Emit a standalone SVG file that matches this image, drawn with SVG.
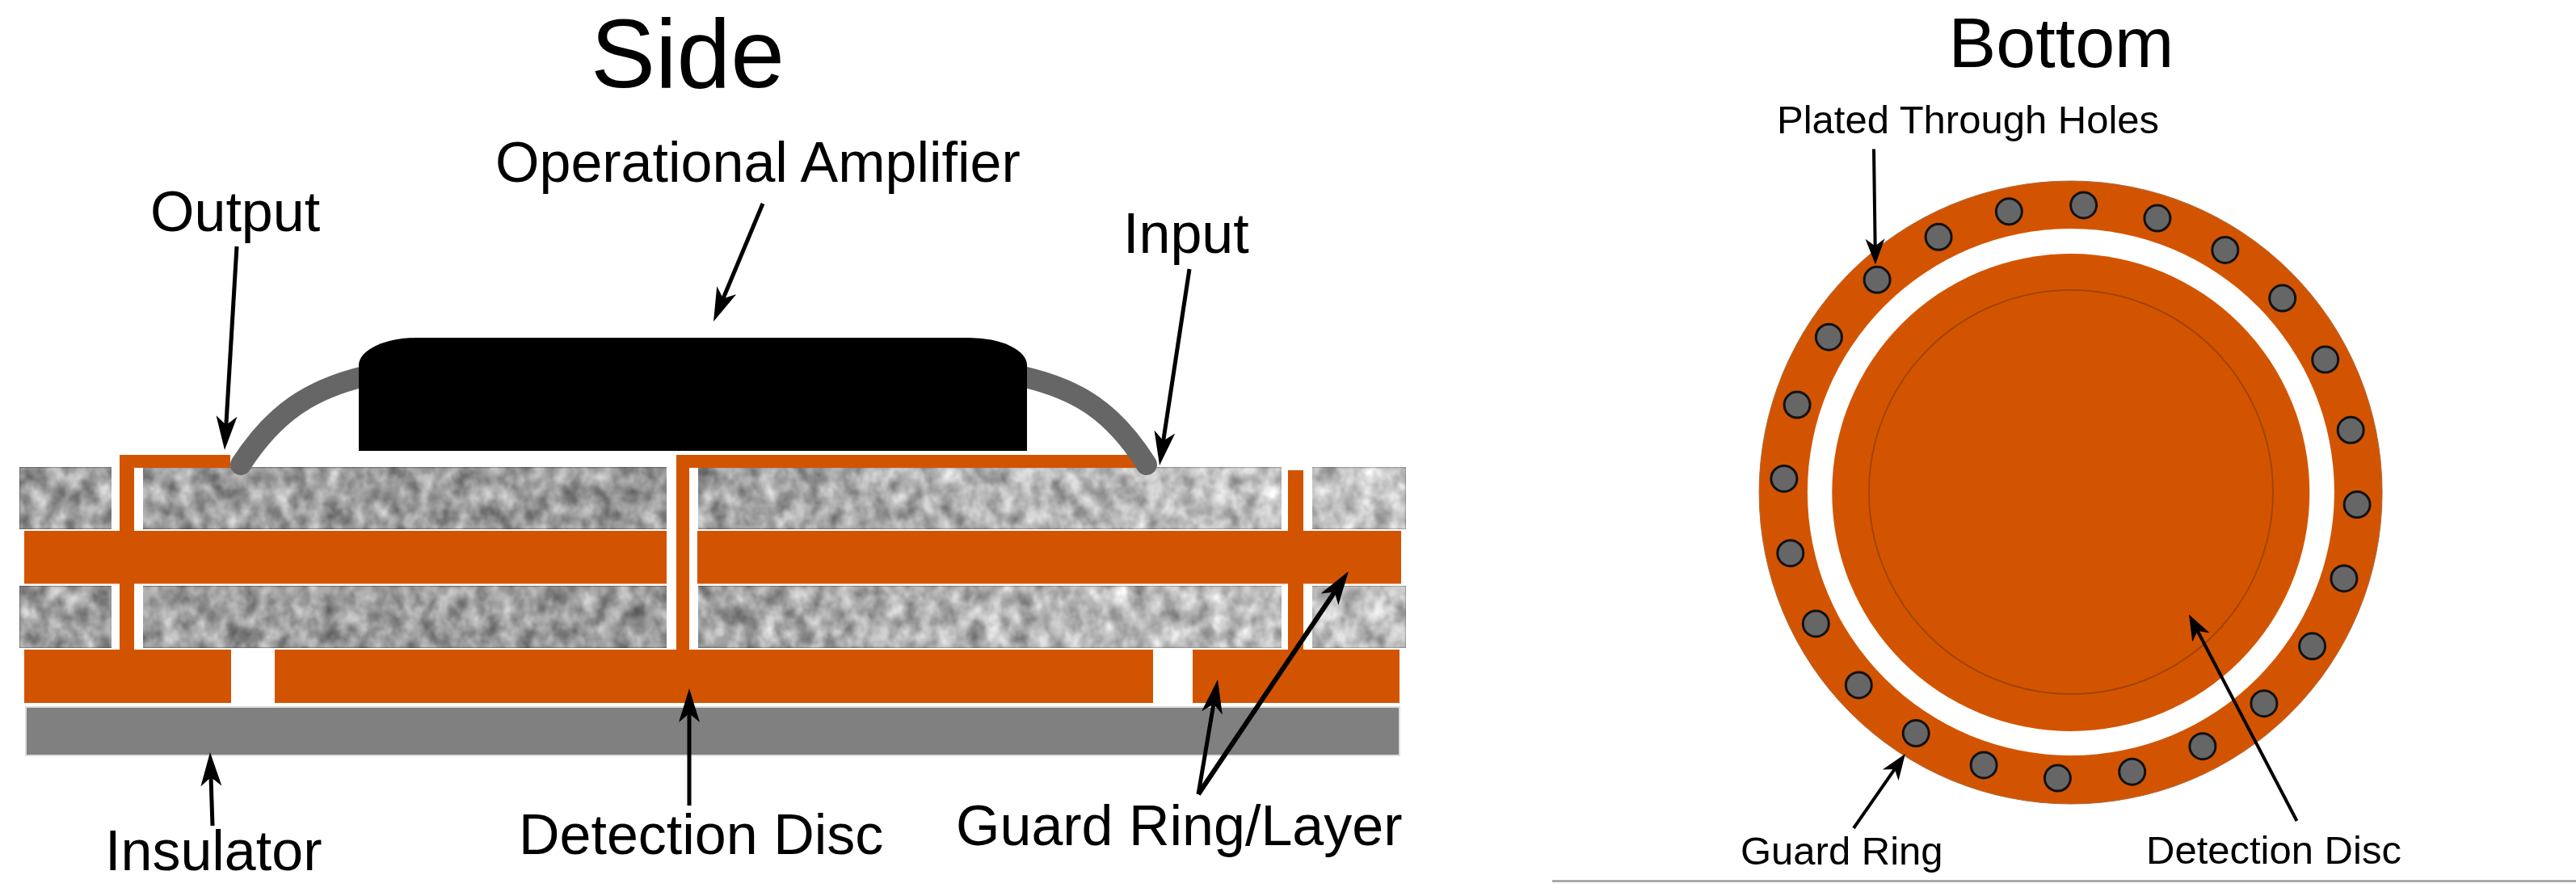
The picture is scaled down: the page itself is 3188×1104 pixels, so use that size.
<svg xmlns="http://www.w3.org/2000/svg" width="3188" height="1104" viewBox="0 0 3188 1104">
<style>
text{font-family:"Liberation Sans",Arial,sans-serif;fill:#000}
.big{font-size:70px}.small{font-size:49px}
.cu{fill:#d35400}
.arrow{stroke:#000;stroke-width:5;fill:none;marker-end:url(#head)}
.arrows{stroke:#000;stroke-width:4;fill:none;marker-end:url(#heads)}
.wire{stroke:#666;stroke-width:26;fill:none;stroke-linecap:round}
.hole{fill:#666;stroke:#111;stroke-width:3}
</style>
<defs>
<marker id="head" markerUnits="userSpaceOnUse" markerWidth="46" markerHeight="30" viewBox="0 -15 46 30" refX="27" refY="0" orient="auto"><path d="M0,-13 L42,0 L0,13 L11,0 Z" fill="#000"/></marker>
<marker id="heads" markerUnits="userSpaceOnUse" markerWidth="36" markerHeight="28" viewBox="0 -14 36 28" refX="20" refY="0" orient="auto"><path d="M0,-12 L32,0 L0,12 L9,0 Z" fill="#000"/></marker>
<linearGradient id="tone" gradientUnits="userSpaceOnUse" x1="24" y1="0" x2="1740" y2="0"><stop offset="0" stop-color="#a0a0a0"/><stop offset=".45" stop-color="#9a9a9a"/><stop offset=".65" stop-color="#b0b0b0"/><stop offset="1" stop-color="#c6c6c6"/></linearGradient>
<filter id="rock" x="0" y="0" width="1" height="1" color-interpolation-filters="sRGB">
<feTurbulence type="fractalNoise" baseFrequency="0.05 0.04" numOctaves="4" seed="7" result="n"/>
<feColorMatrix in="n" type="matrix" values=".7 0 0 0 .15 .7 0 0 0 .15 .7 0 0 0 .15 0 0 0 0 1"/>
<feGaussianBlur stdDeviation="1.2" result="g"/>
<feComposite in="SourceGraphic" in2="g" operator="arithmetic" k1="0" k2="1" k3="1" k4="-.5" result="a"/>
<feComposite in="a" in2="SourceGraphic" operator="in"/>
</filter>
</defs>
<rect width="3188" height="1104" fill="#fff"/>
<g id="title-side"><text x="851" y="108" font-size="120" text-anchor="middle">Side</text></g>
<g id="title-bottom"><text x="2551" y="83" font-size="88" text-anchor="middle">Bottom</text></g>
<g id="laminate">
<g fill="url(#tone)" filter="url(#rock)">
<rect x="24" y="578" width="114" height="77"/><rect x="177" y="578" width="648" height="77"/><rect x="864" y="578" width="722" height="77"/><rect x="1624" y="578" width="116" height="77"/>
</g>
<g fill="url(#tone)" filter="url(#rock)">
<rect x="24" y="725" width="114" height="77"/><rect x="177" y="725" width="648" height="77"/><rect x="864" y="725" width="722" height="77"/><rect x="1624" y="725" width="116" height="77"/>
</g>
</g>
<g id="guard-layer" class="cu">
<rect x="30" y="657" width="795" height="65.5"/><rect x="863" y="657" width="871" height="65.5"/>
</g>
<g id="bottom-layer" class="cu">
<rect x="30" y="804" width="256" height="66"/><rect x="340" y="804" width="1087" height="66"/><rect x="1476" y="804" width="256" height="66"/>
</g>
<g id="insulator"><rect x="32" y="875" width="1700" height="60" fill="#808080" stroke="#ddd" stroke-width="2"/></g>
<g id="traces" class="cu">
<path d="M148,563 H285 V579 H166 V805 H148 Z"/>
<path d="M837,563 H1408 V579 H853 V805 H837 Z"/>
<rect x="1594" y="582" width="19" height="223"/>
</g>
<g id="wires">
<path class="wire" d="M298,575 C340,510 385,482 450,466"/>
<path class="wire" d="M1419,575 C1378,510 1335,482 1265,466"/>
</g>
<g id="amplifier"><path d="M444,558 V452 A72,34 0 0 1 516,418 H1199 A72,34 0 0 1 1271,452 V558 Z" fill="#000"/></g>
<g id="bottom-view">
<circle cx="2562.6" cy="609.5" r="385.5" class="cu" stroke="#a86a40" stroke-width="1"/>
<circle cx="2562.9" cy="609" r="326" fill="#fff"/>
<circle cx="2562.8" cy="609.5" r="295.5" class="cu"/>
<circle cx="2563" cy="609" r="250" fill="none" stroke="#a04400" stroke-width="2"/>
</g>
<g id="holes">
<circle class="hole" cx="2578.6" cy="253.9" r="16"/><circle class="hole" cx="2669.9" cy="270.1" r="16"/><circle class="hole" cx="2753.8" cy="309.4" r="16"/><circle class="hole" cx="2824.7" cy="369.1" r="16"/><circle class="hole" cx="2877.7" cy="445.1" r="16"/><circle class="hole" cx="2909.2" cy="532.3" r="16"/><circle class="hole" cx="2917.1" cy="624.6" r="16"/><circle class="hole" cx="2900.9" cy="715.9" r="16"/><circle class="hole" cx="2861.6" cy="799.8" r="16"/><circle class="hole" cx="2801.9" cy="870.7" r="16"/><circle class="hole" cx="2725.9" cy="923.7" r="16"/><circle class="hole" cx="2638.7" cy="955.2" r="16"/><circle class="hole" cx="2546.4" cy="963.1" r="16"/><circle class="hole" cx="2455.1" cy="946.9" r="16"/><circle class="hole" cx="2371.2" cy="907.6" r="16"/><circle class="hole" cx="2300.3" cy="847.9" r="16"/><circle class="hole" cx="2247.3" cy="771.9" r="16"/><circle class="hole" cx="2215.8" cy="684.7" r="16"/><circle class="hole" cx="2207.9" cy="592.4" r="16"/><circle class="hole" cx="2224.1" cy="501.1" r="16"/><circle class="hole" cx="2263.4" cy="417.2" r="16"/><circle class="hole" cx="2323.1" cy="346.3" r="16"/><circle class="hole" cx="2399.1" cy="293.3" r="16"/><circle class="hole" cx="2486.3" cy="261.8" r="16"/>
</g>
<g id="connectors">
<path class="arrow" d="M293,305 L278.9,542"/>
<path class="arrow" d="M944,252 L888.8,384.2"/>
<path class="arrow" d="M1472,333 L1437.3,561.2"/>
<path class="arrow" d="M263,1022 L260.5,946"/>
<path class="arrow" d="M853,997 L853,867"/>
<path class="arrow" d="M1483,983 L1504.5,855.8"/>
<path class="arrow" style="stroke-width:6" d="M1483,983 L1660.6,719.4"/>
<path class="arrows" d="M2319,184.5 L2320.8,315.5"/>
<path class="arrows" d="M2294,1025 L2351.1,942.9"/>
<path class="arrows" d="M2842.5,1016 L2714.6,771.2"/>
</g>
<g id="labels">
<text class="big" x="613" y="225">Operational Amplifier</text>
<text class="big" x="186" y="286">Output</text>
<text class="big" x="1390" y="313">Input</text>
<text class="big" x="130" y="1077">Insulator</text>
<text class="big" x="642" y="1057">Detection Disc</text>
<text class="big" x="1183" y="1046">Guard Ring/Layer</text>
<text class="small" x="2199" y="165">Plated Through Holes</text>
<text class="small" x="2154" y="1070">Guard Ring</text>
<text class="small" x="2656" y="1069">Detection Disc</text>
</g>
<g id="baseline"><rect x="1921" y="1089" width="1267" height="3" fill="#aaa"/></g>
</svg>
